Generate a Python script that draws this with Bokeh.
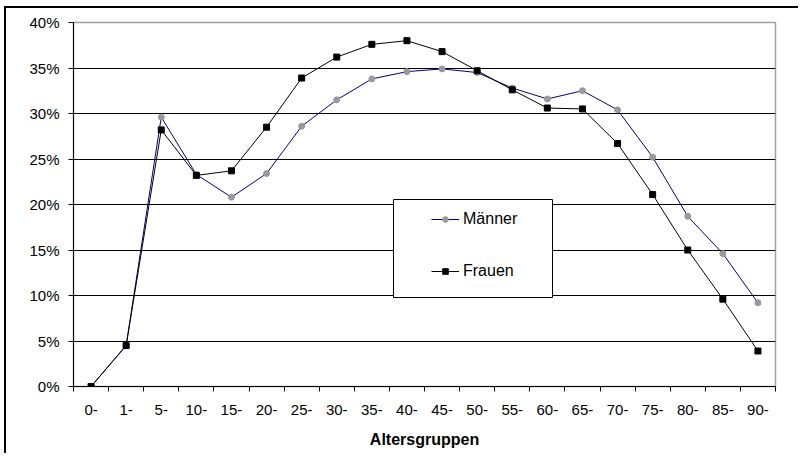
from bokeh.plotting import figure
from bokeh.models import (Range1d, FixedTicker, PrintfTickFormatter, Legend,
                          LegendItem, BoxAnnotation)
from bokeh.embed import file_html
from bokeh.resources import INLINE

categories = ["0-", "1-", "5-", "10-", "15-", "20-", "25-", "30-", "35-", "40-",
              "45-", "50-", "55-", "60-", "65-", "70-", "75-", "80-", "85-", "90-"]
maenner = [0.0, 4.5, 29.6, 23.3, 20.8, 23.4, 28.6, 31.5, 33.8, 34.6,
           34.9, 34.5, 32.8, 31.6, 32.5, 30.4, 25.2, 18.7, 14.6, 9.2]
frauen = [0.0, 4.5, 28.2, 23.2, 23.7, 28.5, 33.9, 36.2, 37.6, 38.0,
          36.8, 34.7, 32.6, 30.6, 30.5, 26.7, 21.1, 15.0, 9.6, 3.9]
y_ticks = [0, 5, 10, 15, 20, 25, 30, 35, 40]
x_title = "Altersgruppen"

FONT = "Liberation Sans"
xs = list(range(len(categories)))

p = figure(width=794, height=447, output_backend="svg", toolbar_location=None,
           x_range=Range1d(-0.5, len(categories) - 0.5),
           y_range=Range1d(y_ticks[0], y_ticks[-1]))
p.min_border_left = 67
p.min_border_right = 25
p.min_border_top = 14
p.min_border_bottom = 69
p.styles = {"margin-left": "4px", "margin-top": "6px",
            "border-left": "2px solid #000", "border-top": "2px solid #000"}

p.background_fill_color = "white"
p.border_fill_color = "white"
p.outline_line_color = "#a0a0a0"
p.outline_line_width = 1.5

# Grid
p.xgrid.grid_line_color = None
p.ygrid.ticker = FixedTicker(ticks=y_ticks[1:-1])
p.ygrid.grid_line_color = "#000000"
p.ygrid.grid_line_width = 1

# Y axis
p.yaxis.ticker = FixedTicker(ticks=y_ticks)
p.yaxis.formatter = PrintfTickFormatter(format="%d%%")
p.yaxis.major_tick_out = 5
p.yaxis.major_tick_in = 0
p.yaxis.minor_tick_line_color = None
p.yaxis.axis_line_color = "black"
p.yaxis.major_tick_line_color = "black"
p.yaxis.major_label_standoff = 9
p.yaxis.major_label_text_font = FONT
p.yaxis.major_label_text_font_size = "15px"
p.yaxis.major_label_text_color = "black"

# X axis
bounds = [i - 0.5 for i in range(len(categories) + 1)]
p.xaxis.ticker = FixedTicker(ticks=xs, minor_ticks=bounds)
p.xaxis.major_label_overrides = {i: c for i, c in zip(xs, categories)}
p.xaxis.major_tick_line_color = None
p.xaxis.major_tick_out = 5
p.xaxis.major_tick_in = 0
p.xaxis.minor_tick_line_color = "black"
p.xaxis.minor_tick_out = 5
p.xaxis.minor_tick_in = 0
p.xaxis.axis_line_color = "black"
p.xaxis.major_label_standoff = 13
p.xaxis.major_label_text_font = FONT
p.xaxis.major_label_text_font_size = "15px"
p.xaxis.major_label_text_color = "black"
p.xaxis.axis_label = x_title
p.xaxis.axis_label_text_font = FONT
p.xaxis.axis_label_text_font_size = "16px"
p.xaxis.axis_label_text_font_style = "bold"
p.xaxis.axis_label_text_color = "black"
p.xaxis.axis_label_standoff = 13

# Series
m_line = p.line(xs, maenner, line_color="#000080", line_width=1)
m_pts = p.scatter(xs, maenner, marker="circle", size=6, fill_color="#999999",
                  line_color="#999999")
f_line = p.line(xs, frauen, line_color="black", line_width=1)
f_pts = p.scatter(xs, frauen, marker="square", size=6, fill_color="black",
                  line_color="black")

# Legend box
box = BoxAnnotation(left=320, right=479, bottom=89, top=187,
                    left_units="screen", right_units="screen",
                    bottom_units="screen", top_units="screen",
                    fill_color="white", fill_alpha=1.0,
                    line_color="black", line_width=1, line_alpha=1.0)
p.add_layout(box)

legend = Legend(items=[LegendItem(label="Männer", renderers=[m_line, m_pts]),
                       LegendItem(label="Frauen", renderers=[f_line, f_pts])],
                location=(358, 106), padding=0, spacing=34,
                glyph_height=14, glyph_width=28, label_height=14,
                label_standoff=4,
                border_line_color=None, background_fill_alpha=0,
                label_text_font=FONT, label_text_font_size="16px",
                label_text_color="black")
p.add_layout(legend)

open("out.html", "w").write(file_html(p, INLINE))
